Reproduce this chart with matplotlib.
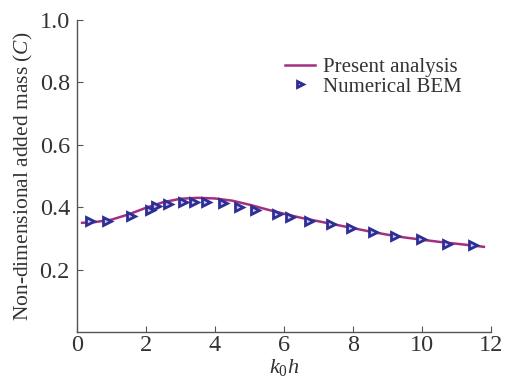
import matplotlib
matplotlib.use("Agg")
import matplotlib.pyplot as plt

plt.rcParams['font.family'] = ['Liberation Serif', 'DejaVu Serif']
plt.rcParams['mathtext.fontset'] = 'custom'
plt.rcParams['mathtext.it'] = 'Liberation Serif:italic'
plt.rcParams['mathtext.rm'] = 'Liberation Serif'

# Present analysis (line)
line_x = [0.15, 0.5, 1.0, 1.5, 2.0, 2.5, 3.0, 3.5, 4.0, 4.5, 5.0, 5.5, 6.0,
          6.5, 7.0, 7.5, 8.0, 8.5, 9.0, 9.5, 10.0, 10.5, 11.0, 11.5, 11.8]
line_y = [0.350, 0.352, 0.360, 0.377, 0.398, 0.416, 0.427, 0.430, 0.428, 0.421,
          0.408, 0.393, 0.379, 0.366, 0.355, 0.344, 0.333, 0.322, 0.312, 0.303,
          0.296, 0.289, 0.283, 0.277, 0.273]

# Numerical BEM (markers)
bem_x = [0.37, 0.87, 1.58, 2.11, 2.29, 2.64, 3.07, 3.39, 3.74, 4.23, 4.71,
         5.15, 5.79, 6.17, 6.73, 7.38, 7.96, 8.58, 9.21, 9.99, 10.72, 11.49]
bem_y = [0.355, 0.355, 0.371, 0.390, 0.403, 0.409, 0.416, 0.418, 0.416, 0.412,
         0.401, 0.391, 0.377, 0.369, 0.357, 0.345, 0.333, 0.320, 0.308, 0.298,
         0.283, 0.278]

fig = plt.figure(figsize=(5.06, 3.83), dpi=100)
ax = fig.add_axes([0.152, 0.133, 0.818, 0.815])

ax.plot(line_x, line_y, color='#a3307f', lw=1.8, label='Present analysis', zorder=2)
ax.plot(bem_x, bem_y, linestyle='none', marker='>', markersize=5.5,
        markerfacecolor='#c8c8f0', markeredgecolor='#2e2e95', markeredgewidth=2.0,
        label='Numerical BEM', zorder=3)

ax.set_xlim(0, 12)
ax.set_ylim(0, 1.0)
ax.set_xticks([0, 2, 4, 6, 8, 10, 12])
ax.set_yticks([0.2, 0.4, 0.6, 0.8, 1.0])
ax.set_yticklabels(['0.2', '0.4', '0.6', '0.8', '1.0'])

for s in ['top', 'right']:
    ax.spines[s].set_visible(False)
for s in ['left', 'bottom']:
    ax.spines[s].set_color('#555555')
    ax.spines[s].set_linewidth(1.0)

ax.tick_params(direction='in', length=4, color='#555555', labelsize=17.5,
               labelcolor='#333333')
ax.tick_params(axis='x', pad=2)
ax.tick_params(axis='y', pad=5)

ax.set_xlabel('$k_0h$', fontsize=16, color='#333333', labelpad=1)
ax.set_ylabel('Non-dimensional added mass ($C$)', fontsize=15.5, color='#333333', labelpad=3)

ax.legend(loc='upper right', bbox_to_anchor=(0.975, 0.94), frameon=False,
          fontsize=15, handlelength=1.4, handletextpad=0.4, labelspacing=0.0,
          markerscale=0.8, labelcolor='#333333')

fig.savefig('out.png', dpi=100)
